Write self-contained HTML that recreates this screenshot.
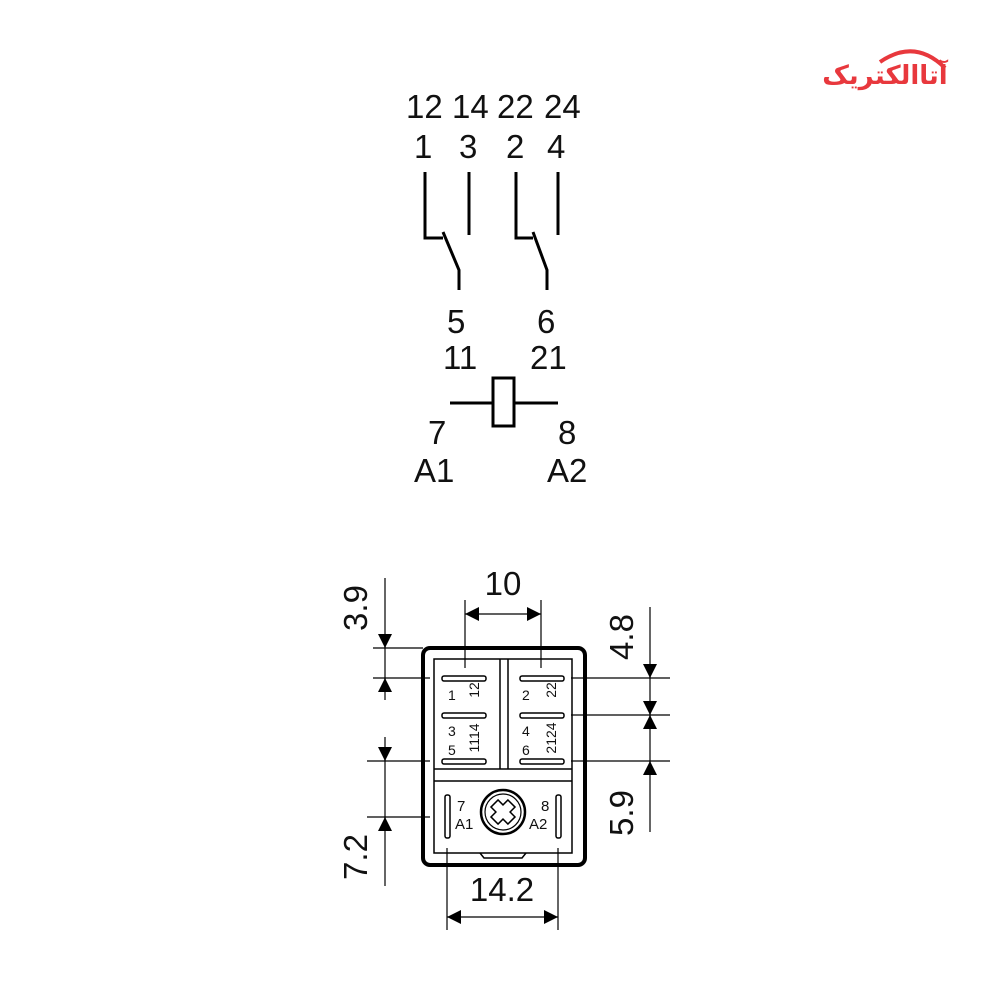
<!DOCTYPE html>
<html><head><style>
body{margin:0;background:#fff}
svg{display:block}
text{font-family:"Liberation Sans",sans-serif;fill:#111}
</style></head><body>
<svg width="1000" height="1000" viewBox="0 0 1000 1000">
<defs>
<marker id="a" viewBox="0 0 10 10" refX="10" refY="5" markerWidth="14" markerHeight="14" markerUnits="userSpaceOnUse" orient="auto-start-reverse"><path d="M0,0L10,5L0,10Z" fill="#000"/></marker>
</defs>
<!-- logo -->
<text x="885" y="84" font-size="26" font-weight="bold" style="fill:#e8383d;font-family:'DejaVu Sans',sans-serif" text-anchor="middle">آتاالکتریک</text>
<path d="M880,62 Q915,38 945,68" stroke="#e8383d" stroke-width="4" fill="none"/>
<!-- schematic -->
<g font-size="33">
<text x="406" y="118">12</text><text x="452" y="118">14</text><text x="497" y="118">22</text><text x="544" y="118">24</text>
<text x="414" y="158">1</text><text x="459" y="158">3</text><text x="506" y="158">2</text><text x="547" y="158">4</text>
<text x="447" y="333">5</text><text x="537" y="333">6</text>
<text x="443" y="369">11</text><text x="530" y="369">21</text>
<text x="428" y="444">7</text><text x="558" y="444">8</text>
<text x="414" y="482">A1</text><text x="547" y="482">A2</text>
</g>
<g stroke="#000" stroke-width="3" fill="none">
<path d="M425,172V238H443M443,232L459,270V290"/>
<path d="M469,172V235"/>
<path d="M516,172V238H533M533,232L547,270V290"/>
<path d="M558,172V235"/>
<path d="M450,403H493M514,403H558"/>
<rect x="493" y="378" width="21" height="48"/>
</g>
<!-- package -->
<g stroke="#000" fill="none">
<rect x="423" y="648" width="162" height="217" rx="7" stroke-width="4"/>
<path d="M434,659H572V853H434Z" stroke-width="1.5"/>
<path d="M500,659V769M508,659V769M434,769H572M434,781H572" stroke-width="1.5"/>
<path d="M480,853L484,858H522L526,853" stroke-width="1.5"/>
<circle cx="503" cy="812" r="22" stroke-width="2.5"/>
<circle cx="503" cy="812" r="18" stroke-width="1.2"/>
<path d="M498,800h10v7h7v10h-7v7h-10v-7h-7v-10h7z" stroke-width="1.5" transform="rotate(45 503 812)"/>
</g>
<g fill="#fff" stroke="#000" stroke-width="1.5">
<rect x="442" y="676" width="44" height="5" rx="2"/><rect x="520" y="676" width="44" height="5" rx="2"/>
<rect x="442" y="713" width="44" height="5" rx="2"/><rect x="520" y="713" width="44" height="5" rx="2"/>
<rect x="442" y="759" width="44" height="5" rx="2"/><rect x="520" y="759" width="44" height="5" rx="2"/>
<rect x="445" y="795" width="5" height="43" rx="2"/><rect x="556" y="795" width="5" height="43" rx="2"/>
</g>
<g font-size="14">
<text x="448" y="700">1</text><text x="448" y="736">3</text><text x="448" y="755">5</text>
<text x="522" y="700">2</text><text x="522" y="736">4</text><text x="522" y="755">6</text>
<text transform="translate(479,690) rotate(-90)" text-anchor="middle">12</text>
<text transform="translate(479,738) rotate(-90)" text-anchor="middle">1114</text>
<text transform="translate(556,690) rotate(-90)" text-anchor="middle">22</text>
<text transform="translate(556,738) rotate(-90)" text-anchor="middle">2124</text>
<text x="457" y="811" font-size="15">7</text><text x="455" y="829" font-size="15">A1</text>
<text x="541" y="811" font-size="15">8</text><text x="529" y="829" font-size="15">A2</text>
</g>
<!-- dimensions -->
<g stroke="#000" stroke-width="1.2" fill="none">
<path d="M385,578V700M373,648H423M373,678H430"/>
<path d="M385,737V886M367,761H430M367,817H430"/>
<path d="M650,607V832M571,678H670M571,715H670M571,761H670"/>
<path d="M465,600V668M541,600V668"/>
<path d="M447,848V930M558,848V930"/>
<path d="M465,614H541" marker-start="url(#a)" marker-end="url(#a)"/>
<path d="M447,917H558" marker-start="url(#a)" marker-end="url(#a)"/>
<path d="M385,634V648" marker-end="url(#a)"/><path d="M385,692V678" marker-end="url(#a)"/>
<path d="M385,747V761" marker-end="url(#a)"/><path d="M385,831V817" marker-end="url(#a)"/>
<path d="M650,664V678" marker-end="url(#a)"/><path d="M650,729V715" marker-end="url(#a)"/>
<path d="M650,701V715" marker-end="url(#a)"/><path d="M650,775V761" marker-end="url(#a)"/>
</g>
<g font-size="33">
<text x="503" y="595" text-anchor="middle">10</text>
<text x="502" y="901" text-anchor="middle">14.2</text>
<text transform="translate(367,608) rotate(-90)" text-anchor="middle">3.9</text>
<text transform="translate(367,857) rotate(-90)" text-anchor="middle">7.2</text>
<text transform="translate(633,637) rotate(-90)" text-anchor="middle">4.8</text>
<text transform="translate(633,813) rotate(-90)" text-anchor="middle">5.9</text>
</g>
</svg>
</body></html>
